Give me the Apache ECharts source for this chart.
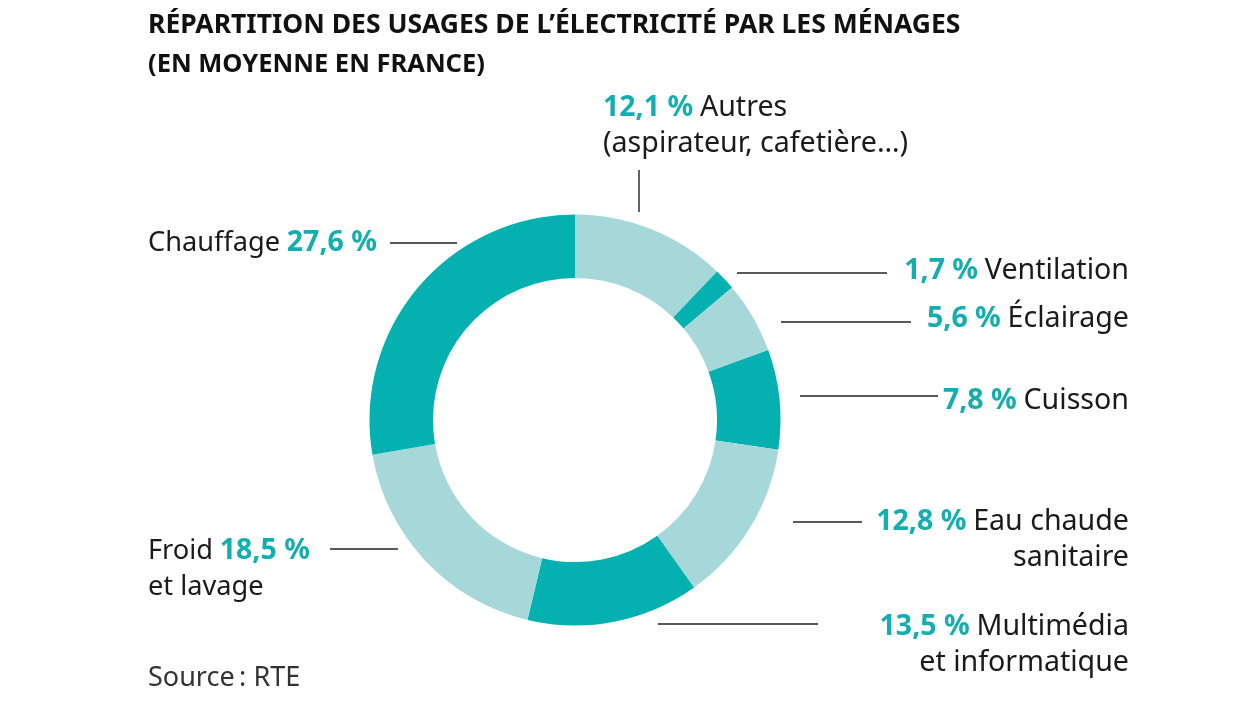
<!DOCTYPE html>
<html><head><meta charset="utf-8">
<style>html,body{margin:0;padding:0;background:#fff}#c{width:1256px;height:707px}</style>
<script src="https://cdn.jsdelivr.net/npm/echarts@6/dist/echarts.min.js"></script>
</head><body><div id="c"></div>
<script>
const categories = ['Autres','Ventilation','Éclairage','Cuisson','Eau chaude sanitaire','Multimédia et informatique','Froid et lavage','Chauffage'];
const values = [12.1,1.7,5.6,7.8,12.8,13.5,18.5,27.6];
const valueLabels = ['12,1 %','1,7 %','5,6 %','7,8 %','12,8 %','13,5 %','18,5 %','27,6 %'];
const labelTemplates = [
  '{p|$}{s| }{t|Autres}\n{t|(aspirateur, cafetière…)}',
  '{p|$}{s| }{t|Ventilation}',
  '{p|$}{s| }{t|Éclairage}',
  '{p|$}{s| }{t|Cuisson}',
  '{p|$}{s| }{t|Eau chaude}\n{t|sanitaire}',
  '{p|$}{s| }{t|Multimédia}\n{t|et informatique}',
  '{n|Froid}{s| }{p|$}\n{n|et lavage}',
  '{n|Chauffage}{s| }{p|$}'
];
const titleLines = ['RÉPARTITION DES USAGES DE L’ÉLECTRICITÉ PAR LES MÉNAGES','(EN MOYENNE EN FRANCE)'];
const sourceText = 'Source\u202f: RTE';
const sliceDark = '#05b0b1', sliceLight = '#a6d8d9', accent = '#12aeb0', ink = '#1a1a1a';
const fontFamily = '"Noto Sans", sans-serif';
const labelPos = [
  {x:603,y:90,align:'left'},{x:1129,y:253,align:'right'},{x:1129,y:301,align:'right'},{x:1129,y:383,align:'right'},
  {x:1129,y:504,align:'right'},{x:1129,y:609,align:'right'},{x:148,y:533,align:'left'},{x:148,y:225,align:'left'}
];
const leaders = [[639,170,639,212],[737,273,887,273],[781,322,911,322],[800,396,938,396],[793,522,862,522],[658,624,818,624],[330,549,398,549],[390,243,457,243]];
const chart = echarts.init(document.getElementById('c'));
chart.setOption({
  animation:false,
  title:[
    {text:titleLines[0],left:143,top:7,textStyle:{fontFamily,fontSize:26.5,fontWeight:'bold',color:'#111'}},
    {text:titleLines[1],left:143,top:47,textStyle:{fontFamily,fontSize:25.5,fontWeight:'bold',color:'#111'}},
    {text:sourceText,left:143,top:660,textStyle:{fontFamily,fontSize:27,fontWeight:'normal',color:'#333'}}
  ],
  graphic:leaders.map(l=>({type:'line',shape:{x1:l[0],y1:l[1],x2:l[2],y2:l[3]},style:{stroke:'#222',lineWidth:1.4}})),
  series:[{
    type:'pie',center:[575,420],radius:[142,205.5],startAngle:90,clockwise:true,
    silent:true,
    label:{show:true,position:'outside',fontFamily,
      formatter:p=>labelTemplates[p.dataIndex].replace('$',valueLabels[p.dataIndex]),
      rich:{
        p:{fontFamily,fontSize:28.5,fontWeight:'bold',color:accent,lineHeight:36},
        t:{fontFamily,fontSize:28.6,color:ink,lineHeight:36},
        n:{fontFamily,fontSize:27.2,color:ink,lineHeight:36},
        s:{fontFamily,fontSize:26,color:ink,lineHeight:36}
      }},
    labelLine:{show:false},
    labelLayout:p=>{const q=labelPos[p.dataIndex];return {x:q.x,y:q.y,align:q.align,verticalAlign:'top',hideOverlap:false};},
    data:categories.map((c,i)=>({name:c,value:values[i],itemStyle:{color:i%2===0?sliceLight:sliceDark}}))
  }]
});
</script></body></html>
